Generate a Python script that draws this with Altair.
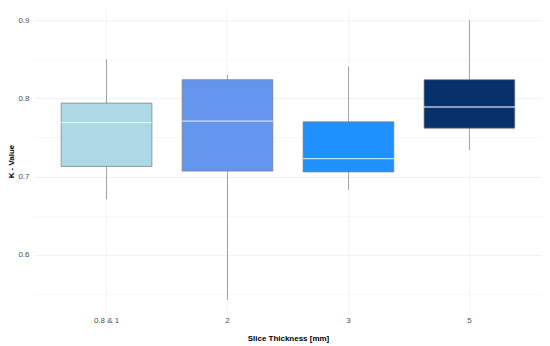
import altair as alt
import pandas as pd

categories = ["0.8 & 1", "2", "3", "5"]
whisker_low = [0.671, 0.542, 0.683, 0.734]
q1 = [0.713, 0.707, 0.706, 0.762]
median = [0.769, 0.771, 0.723, 0.789]
q3 = [0.794, 0.824, 0.770, 0.824]
whisker_high = [0.850, 0.830, 0.841, 0.900]
colors = ["#ADD8E6", "#6495ED", "#1E90FF", "#08306B"]

df = pd.DataFrame({
    "cat": categories, "lo": whisker_low, "q1": q1, "med": median,
    "q3": q3, "hi": whisker_high,
})

W, H = 509, 306
FONT = "Liberation Sans"

x = alt.X("cat:N", sort=categories,
          scale=alt.Scale(paddingInner=0.25, paddingOuter=0.225),
          axis=alt.Axis(title="Slice Thickness [mm]", labelAngle=0, tickSize=0,
                        domain=False, labelPadding=3, titlePadding=10,
                        grid=True, gridColor="#ececec", gridWidth=0.6,
                        labelColor="#4d4d4d", labelFontSize=8, titleFontSize=8,
                        titleFontWeight="bold", labelFont=FONT, titleFont=FONT,
                        bandPosition=0.5))
yscale = alt.Scale(domain=[0.5245, 0.9153], nice=False, zero=False)
yaxis = alt.Axis(title="K  - Value", values=[0.55, 0.6, 0.65, 0.7, 0.75, 0.8, 0.85, 0.9],
                 labelExpr="round(datum.value*100) % 10 == 0 ? datum.label : ''",
                 format=".1f", tickSize=0, domain=False, labelPadding=5,
                 titlePadding=2, gridWidth=0.6,
                 gridColor={"condition": {"test": "round(datum.value*100) % 10 == 0", "value": "#e8e8e8"}, "value": "#f4f4f4"},
                 labelColor="#4d4d4d", labelFontSize=8, titleFontSize=8,
                 titleFontWeight="bold", labelFont=FONT, titleFont=FONT)

base = alt.Chart(df)

whisk = base.mark_rule(color="#8c8c8c", strokeWidth=0.8).encode(
    x=x, y=alt.Y("lo:Q", scale=yscale, axis=yaxis), y2="hi:Q")

box = base.mark_bar(stroke="#7a7a7a", strokeWidth=0.7, opacity=1).encode(
    x=x, y=alt.Y("q1:Q", scale=yscale, axis=yaxis), y2="q3:Q",
    color=alt.Color("cat:N", scale=alt.Scale(domain=categories, range=colors), legend=None))

med = base.mark_tick(color="white", thickness=1.4, size=91, orient="horizontal").encode(
    x=x, y=alt.Y("med:Q", scale=yscale, axis=yaxis))

chart = alt.layer(whisk, box, med).properties(
    width=W, height=H,
    autosize=alt.AutoSizeParams(type="none"),
    padding={"left": 26, "top": 0, "right": 0, "bottom": 32},
).configure(background="white").configure_view(stroke=None)

chart.save("out.html", embed_options={"renderer": "svg", "actions": False})
